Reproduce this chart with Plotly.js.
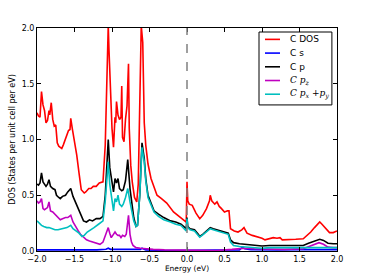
<!DOCTYPE html>
<html>
<head>
<meta charset="utf-8">
<script src="https://cdn.plot.ly/plotly-3.0.1.min.js"></script>
<style>html,body{margin:0;padding:0;background:#fff;}#chart{width:374px;height:280px;}</style>
</head>
<body>
<div id="chart"></div>
<script>
// C DOS (red)
const energyDOS = [-2.00,-1.98,-1.96,-1.94,-1.92,-1.90,-1.88,-1.86,-1.84,-1.83,-1.81,-1.79,-1.77,-1.75,-1.73,-1.71,-1.69,-1.67,-1.65,-1.63,-1.61,-1.58,-1.56,-1.55,-1.53,-1.51,-1.49,-1.47,-1.44,-1.41,-1.37,-1.35,-1.31,-1.28,-1.25,-1.21,-1.17,-1.12,-1.09,-1.07,-1.05,-1.04,-1.02,-1.00,-0.98,-0.96,-0.95,-0.94,-0.92,-0.90,-0.88,-0.87,-0.86,-0.84,-0.82,-0.80,-0.78,-0.77,-0.75,-0.73,-0.70,-0.67,-0.65,-0.63,-0.61,-0.59,-0.57,-0.55,-0.52,-0.48,-0.44,-0.40,-0.34,-0.27,-0.18,-0.10,-0.03,-0.01,0.00,0.01,0.03,0.07,0.12,0.17,0.21,0.26,0.30,0.31,0.33,0.37,0.40,0.43,0.46,0.50,0.54,0.56,0.58,0.63,0.68,0.73,0.76,0.80,0.87,0.93,1.00,1.04,1.10,1.15,1.20,1.24,1.27,1.35,1.45,1.55,1.60,1.65,1.70,1.77,1.80,1.86,1.90,1.95,2.00];
const dosTotal = [1.24,1.21,1.20,1.43,1.31,1.26,1.15,1.17,1.26,1.22,1.33,1.18,1.12,1.13,0.97,0.94,0.93,0.92,0.95,0.99,1.04,1.08,1.09,1.19,1.10,1.03,0.93,0.86,0.70,0.55,0.52,0.53,0.56,0.56,0.58,0.58,0.61,0.62,0.95,1.60,2.02,1.80,1.45,1.10,0.93,1.20,1.15,1.34,1.22,1.18,1.20,1.48,1.02,0.98,1.18,1.30,1.68,1.10,0.77,0.62,0.48,0.44,0.60,1.40,2.02,1.87,1.15,0.95,0.78,0.65,0.57,0.50,0.47,0.43,0.35,0.31,0.27,0.26,0.62,0.45,0.42,0.41,0.34,0.29,0.32,0.38,0.45,0.50,0.45,0.42,0.44,0.40,0.38,0.35,0.36,0.36,0.20,0.18,0.17,0.19,0.21,0.16,0.14,0.13,0.115,0.10,0.11,0.12,0.115,0.12,0.10,0.105,0.105,0.11,0.14,0.17,0.21,0.26,0.24,0.19,0.165,0.165,0.18];

// C s (blue)
const energyS = [-2.00,-1.80,-1.60,-1.55,-1.40,-1.20,-1.08,-1.05,-1.02,-0.90,-0.80,-0.62,-0.60,-0.55,-0.30,0.00,0.30,0.55,0.70,0.74,0.77,0.85,1.00,1.20,1.50,1.75,2.00];
const dosS = [0.010,0.012,0.012,0.015,0.010,0.010,0.015,0.025,0.015,0.015,0.015,0.015,0.025,0.010,0.005,0.005,0.005,0.005,0.010,0.035,0.020,0.012,0.010,0.010,0.012,0.015,0.012];

// C p (black)
const energyP = [-2.00,-1.98,-1.96,-1.94,-1.92,-1.90,-1.88,-1.86,-1.84,-1.82,-1.79,-1.76,-1.74,-1.71,-1.69,-1.66,-1.62,-1.59,-1.55,-1.52,-1.49,-1.45,-1.42,-1.38,-1.34,-1.30,-1.26,-1.21,-1.16,-1.12,-1.09,-1.07,-1.05,-1.03,-1.01,-0.98,-0.96,-0.94,-0.92,-0.90,-0.87,-0.85,-0.82,-0.79,-0.76,-0.73,-0.71,-0.68,-0.66,-0.63,-0.60,-0.57,-0.55,-0.52,-0.48,-0.44,-0.38,-0.31,-0.22,-0.15,-0.08,-0.03,-0.01,0.00,0.01,0.04,0.10,0.15,0.17,0.21,0.27,0.31,0.35,0.40,0.45,0.50,0.55,0.58,0.62,0.70,0.80,0.90,1.00,1.10,1.20,1.30,1.45,1.55,1.62,1.70,1.77,1.82,1.88,1.95,2.00];
const dosP = [0.60,0.59,0.61,0.70,0.62,0.60,0.58,0.60,0.64,0.58,0.56,0.55,0.50,0.48,0.47,0.49,0.50,0.53,0.56,0.49,0.44,0.38,0.32,0.27,0.26,0.28,0.27,0.29,0.29,0.31,0.50,0.80,1.00,0.75,0.65,0.53,0.65,0.61,0.65,0.56,0.54,0.55,0.63,0.82,0.56,0.40,0.30,0.22,0.23,0.50,0.97,0.83,0.65,0.50,0.42,0.36,0.33,0.30,0.27,0.26,0.24,0.21,0.20,0.30,0.22,0.20,0.19,0.15,0.13,0.15,0.19,0.21,0.20,0.19,0.18,0.17,0.16,0.10,0.075,0.065,0.06,0.055,0.045,0.05,0.05,0.045,0.045,0.05,0.07,0.09,0.105,0.095,0.07,0.065,0.065];

// C pz (magenta)
const energyPz = [-2.00,-1.98,-1.96,-1.94,-1.92,-1.90,-1.88,-1.86,-1.84,-1.82,-1.79,-1.76,-1.74,-1.71,-1.69,-1.66,-1.62,-1.59,-1.55,-1.52,-1.49,-1.45,-1.42,-1.38,-1.34,-1.30,-1.25,-1.21,-1.16,-1.12,-1.09,-1.07,-1.05,-1.03,-1.01,-0.99,-0.96,-0.94,-0.92,-0.90,-0.88,-0.86,-0.83,-0.81,-0.79,-0.78,-0.76,-0.74,-0.72,-0.68,-0.62,-0.55,-0.45,-0.30,0.00,0.40,0.60,0.75,0.90,1.10,1.30,1.55,1.62,1.70,1.76,1.82,1.88,1.95,2.00];
const dosPz = [0.45,0.43,0.44,0.47,0.38,0.37,0.38,0.39,0.44,0.36,0.35,0.33,0.31,0.29,0.28,0.29,0.30,0.30,0.32,0.26,0.22,0.18,0.15,0.12,0.10,0.09,0.08,0.065,0.06,0.08,0.14,0.18,0.21,0.16,0.12,0.14,0.17,0.15,0.14,0.14,0.12,0.14,0.13,0.15,0.29,0.32,0.15,0.08,0.05,0.03,0.025,0.02,0.015,0.01,0.005,0.005,0.015,0.025,0.02,0.015,0.015,0.02,0.04,0.06,0.075,0.06,0.035,0.03,0.03];

// C px+py (cyan)
const energyPxy = [-2.00,-1.97,-1.94,-1.91,-1.87,-1.84,-1.80,-1.76,-1.72,-1.68,-1.64,-1.60,-1.55,-1.52,-1.48,-1.44,-1.40,-1.37,-1.33,-1.28,-1.24,-1.18,-1.12,-1.09,-1.07,-1.05,-1.03,-1.01,-0.98,-0.96,-0.94,-0.92,-0.90,-0.87,-0.85,-0.82,-0.79,-0.76,-0.73,-0.71,-0.68,-0.66,-0.63,-0.60,-0.57,-0.55,-0.52,-0.48,-0.44,-0.38,-0.31,-0.22,-0.15,-0.08,-0.03,-0.01,0.00,0.01,0.04,0.10,0.15,0.17,0.21,0.27,0.31,0.35,0.40,0.45,0.50,0.55,0.58,0.62,0.70,0.80,0.90,1.00,1.10,1.20,1.30,1.45,1.55,1.62,1.70,1.77,1.85,1.95,2.00];
const dosPxy = [0.27,0.25,0.23,0.22,0.21,0.21,0.20,0.19,0.19,0.195,0.20,0.21,0.23,0.20,0.18,0.16,0.13,0.14,0.17,0.19,0.21,0.24,0.27,0.45,0.65,0.80,0.60,0.48,0.36,0.47,0.44,0.50,0.42,0.40,0.42,0.48,0.56,0.44,0.33,0.27,0.22,0.23,0.50,0.93,0.80,0.63,0.48,0.41,0.35,0.31,0.28,0.26,0.24,0.23,0.19,0.18,0.29,0.21,0.19,0.18,0.14,0.125,0.145,0.18,0.20,0.19,0.18,0.17,0.16,0.15,0.08,0.05,0.04,0.035,0.03,0.025,0.03,0.03,0.025,0.025,0.025,0.03,0.03,0.03,0.03,0.03,0.03];

const xTickVals = [-2.0,-1.5,-1.0,-0.5,0.0,0.5,1.0,1.5,2.0];
const yTickVals = [0.0,0.5,1.0,1.5,2.0];

const mathSpan = s => "<span style=\"font-family:'DejaVu Serif'\"><i>" + s + "</i></span>";
const seriesNames = ["C DOS", "C s", "C p", mathSpan("C p<sub>z</sub>"), mathSpan("C p<sub>x</sub> +p<sub>y</sub>")];
const seriesColors = ["#ff0000", "#0000ff", "#000000", "#bf00bf", "#00bfbf"];
const xs = [energyDOS, energyS, energyP, energyPz, energyPxy];
const ys = [dosTotal, dosS, dosP, dosPz, dosPxy];

const traces = xs.map((x, i) => ({
  x: x, y: ys[i], type: "scatter", mode: "lines", name: seriesNames[i],
  line: {color: seriesColors[i], width: 1.6}
}));

// Compact matplotlib-style legend (box, swatches, labels) in paper coordinates
const legendBox = {x0: 0.74, x1: 0.983, y0: 0.655, y1: 0.982};
const legendRowTop = 0.949, legendRowStep = 0.0615;
const legendShapes = [{
  type: "rect", xref: "paper", yref: "paper",
  x0: legendBox.x0, x1: legendBox.x1, y0: legendBox.y0, y1: legendBox.y1,
  line: {color: "#000", width: 1}, fillcolor: "#fff", layer: "above"
}];
const legendAnn = [];
seriesNames.forEach((name, i) => {
  const yy = legendRowTop - i * legendRowStep;
  legendShapes.push({
    type: "line", xref: "paper", yref: "paper", x0: 0.76, x1: 0.81, y0: yy, y1: yy,
    line: {color: seriesColors[i], width: 1.6}, layer: "above"
  });
  legendAnn.push({
    xref: "paper", yref: "paper", x: 0.838, y: yy, xanchor: "left", yanchor: "middle",
    text: name, showarrow: false, font: {family: "DejaVu Sans", size: 9, color: "#000"}
  });
});

const axisCommon = {
  showline: true, linecolor: "#000", linewidth: 1, mirror: "ticks",
  ticks: "inside", ticklen: 4, tickcolor: "#000", tickwidth: 1,
  showgrid: false, zeroline: false, tickformat: ".1f",
  tickfont: {family: "DejaVu Sans", size: 8, color: "#000"}
};

const layout = {
  width: 374, height: 280,
  margin: {l: 37, r: 37, t: 28, b: 29},
  paper_bgcolor: "#fff", plot_bgcolor: "#fff",
  showlegend: false,
  xaxis: Object.assign({}, axisCommon, {
    range: [-2, 2], tickvals: xTickVals,
    title: {text: "Energy (eV)", font: {family: "DejaVu Sans", size: 7.5, color: "#000"}, standoff: 2}
  }),
  yaxis: Object.assign({}, axisCommon, {
    range: [0, 2], tickvals: yTickVals,
    title: {text: "DOS (States per unit cell per eV)", font: {family: "DejaVu Sans", size: 8, color: "#000"}, standoff: 4}
  }),
  shapes: [{
    type: "line", xref: "x", yref: "paper", x0: 0, x1: 0, y0: 0, y1: 1,
    line: {color: "#808080", width: 1.5, dash: "dash"}, layer: "above"
  }].concat(legendShapes),
  annotations: legendAnn
};

Plotly.newPlot("chart", traces, layout, {displayModeBar: false, staticPlot: true});
</script>
</body>
</html>
